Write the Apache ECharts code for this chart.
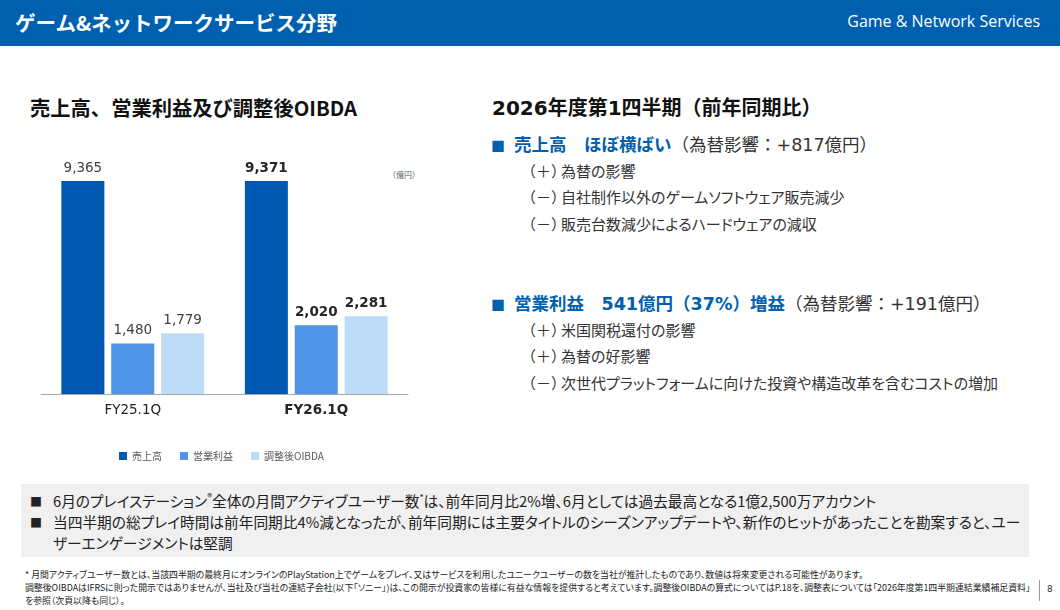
<!DOCTYPE html>
<html>
<head>
<meta charset="utf-8">
<script src="https://cdn.jsdelivr.net/npm/echarts@6/dist/echarts.min.js"></script>
<style>
body{margin:0;width:1060px;height:610px;position:relative;overflow:hidden;background:#fff;font-family:"Noto Sans CJK JP",sans-serif;color:#262626}
.abs{position:absolute;white-space:nowrap}
.palt{font-feature-settings:"palt" 1}
#header{left:0;top:0;width:1060px;height:46px;background:#0060B0}
#header .jp{left:15px;top:8px;line-height:28px;font-size:20.5px;font-weight:bold;color:#fff}
#header .en{right:20px;top:9px;line-height:24px;font-size:16px;color:#fff;font-family:"Open Sans",sans-serif}
.h2{font-size:20.3px;font-weight:bold;color:#111;line-height:24px}
.num{font-family:"DejaVu Sans","Noto Sans CJK JP",sans-serif}
.bul{font-size:17.5px;line-height:22px;color:#333}
.bul .sq{display:inline-block;width:23px;color:#0060B0;font-size:14px}
.bul .hl{color:#0060B0;font-weight:bold}
.sub{font-size:15px;line-height:20px;color:#333}
.sub .mk{display:inline-block;width:40px}
.sub .tx{font-feature-settings:"palt" 1}
#box{left:21px;top:484px;width:1008px;height:73px;background:#F0F0F0}
.bx{font-size:14.7px;line-height:21px;color:#222}
.bx .sq{display:inline-block;width:23px;font-size:12px}
.fn{font-size:8.9px;line-height:13px;color:#222}
#chart{left:0;top:130px;width:470px;height:340px}
</style>
</head>
<body>
<div id="header" class="abs">
  <div class="abs jp">ゲーム&amp;ネットワークサービス分野</div>
  <div class="abs en">Game &amp; Network Services</div>
</div>

<div class="abs h2" style="left:30px;top:95px;">売上高、営業利益及び調整後OIBDA</div>
<div class="abs h2" style="left:492px;top:95px;font-size:20px;"><span class="num">2026</span>年度第<span class="num">1</span>四半期（前年同期比）</div>

<div class="abs bul" style="left:491px;top:133px;"><span class="sq">■</span><span class="hl">売上高　ほぼ横ばい</span>（為替影響：<span class="num">+817</span>億円）</div>
<div class="abs sub" style="left:521px;top:161px;"><span class="mk">（＋）</span><span class="tx">為替の影響</span></div>
<div class="abs sub" style="left:521px;top:187px;"><span class="mk">（－）</span><span class="tx">自社制作以外のゲームソフトウェア販売減少</span></div>
<div class="abs sub" style="left:521px;top:214px;"><span class="mk">（－）</span><span class="tx">販売台数減少によるハードウェアの減収</span></div>

<div class="abs bul" style="left:491px;top:292px;"><span class="sq">■</span><span class="hl">営業利益　<span class="num">541</span>億円（<span class="num">37%</span>）増益</span>（為替影響：<span class="num">+191</span>億円）</div>
<div class="abs sub" style="left:521px;top:320px;"><span class="mk">（＋）</span><span class="tx">米国関税還付の影響</span></div>
<div class="abs sub" style="left:521px;top:346px;"><span class="mk">（＋）</span><span class="tx">為替の好影響</span></div>
<div class="abs sub" style="left:521px;top:373px;"><span class="mk">（－）</span><span class="tx">次世代プラットフォームに向けた投資や構造改革を含むコストの増加</span></div>

<div class="abs" style="left:388px;top:169px;font-size:8px;color:#595959;">（億円）</div>

<div id="chart" class="abs"></div>

<div id="box" class="abs"></div>
<div class="abs bx palt" style="left:30px;top:490px;"><span class="sq">■</span>6月のプレイステーション<sup style="font-size:10px;line-height:0">®</sup>全体の月間アクティブユーザー数<sup style="font-size:9px;line-height:0">*</sup>は、前年同月比2%増、6月としては過去最高となる1億2,500万アカウント</div>
<div class="abs bx palt" style="left:30px;top:511px;"><span class="sq">■</span>当四半期の総プレイ時間は前年同期比4%減となったが、前年同期には主要タイトルのシーズンアップデートや、新作のヒットがあったことを勘案すると、ユー</div>
<div class="abs bx palt" style="left:53px;top:532px;">ザーエンゲージメントは堅調</div>

<div class="abs fn palt" style="left:25px;top:568px;">* 月間アクティブユーザー数とは、当該四半期の最終月にオンラインのPlayStation上でゲームをプレイ、又はサービスを利用したユニークユーザーの数を当社が推計したものであり、数値は将来変更される可能性があります。</div>
<div class="abs fn palt" style="left:25px;top:581px;">調整後OIBDAはIFRSに則った開示ではありませんが、当社及び当社の連結子会社(以下「ソニー」)は、この開示が投資家の皆様に有益な情報を提供すると考えています。調整後OIBDAの算式についてはP.18を、調整表については「2026年度第1四半期連結業績補足資料」</div>
<div class="abs fn palt" style="left:25px;top:594px;">を参照（次頁以降も同じ）。</div>
<div class="abs" style="left:1039px;top:580px;width:1px;height:21px;background:#999;"></div>
<div class="abs" style="left:1047px;top:583px;font-size:9px;line-height:13px;color:#333;font-family:'DejaVu Sans',sans-serif;">8</div>

<script>
// 売上高・営業利益・調整後OIBDA（億円）
var categories = ['FY25.1Q', 'FY26.1Q'];
var seriesNames = ['売上高', '営業利益', '調整後OIBDA'];
var salesValues = [9365, 9371];
var operatingIncomeValues = [1480, 2020];
var adjustedOibdaValues = [1779, 2281];

// 数値ラベル: 3桁区切り、当期(FY26.1Q)は太字
function valueLabel(p) {
    var s = p.value.toLocaleString('en-US');
    return p.dataIndex === 1 ? '{b|' + s + '}' : s;
}

function barSeries(name, values, color) {
    return {
        name: name,
        type: 'bar',
        data: values,
        barWidth: 43,
        barGap: '16%',
        clip: true,
        itemStyle: { color: color },
        label: {
            show: true,
            position: 'top',
            distance: 6,
            color: '#404040',
            fontFamily: 'DejaVu Sans',
            fontSize: 13.5,
            formatter: valueLabel,
            rich: {
                b: { fontFamily: 'DejaVu Sans', fontSize: 13.5, fontWeight: 'bold', color: '#262626' }
            }
        }
    };
}

var myChart = echarts.init(document.getElementById('chart'));

var option = {
    animation: false,
    grid: { left: 41, right: 62, top: 51, bottom: 76 },
    legend: {
        data: seriesNames,
        left: 114,
        top: 316,
        icon: 'rect',
        itemWidth: 8,
        itemHeight: 8,
        itemGap: 18,
        textStyle: { fontSize: 10, color: '#595959', fontFamily: 'Noto Sans CJK JP' }
    },
    xAxis: {
        type: 'category',
        data: categories,
        axisTick: { show: false },
        axisLine: { lineStyle: { color: '#A6A6A6', width: 1 } },
        axisLabel: {
            margin: 9,
            color: '#262626',
            fontFamily: 'DejaVu Sans',
            fontSize: 13.5,
            formatter: function (v, i) { return i === 1 ? '{b|' + v + '}' : v; },
            rich: { b: { fontFamily: 'DejaVu Sans', fontSize: 13.5, fontWeight: 'bold', color: '#262626' } }
        }
    },
    // 売上高の棒は原資料同様に上部で切って表示（軸の上限で打ち切り）
    yAxis: { type: 'value', min: 0, max: 6250, show: false },
    series: [
        barSeries(seriesNames[0], salesValues, '#0058B0'),
        barSeries(seriesNames[1], operatingIncomeValues, '#4E95E8'),
        barSeries(seriesNames[2], adjustedOibdaValues, '#BDDCF7')
    ]
};

myChart.setOption(option);
</script>
</body>
</html>
